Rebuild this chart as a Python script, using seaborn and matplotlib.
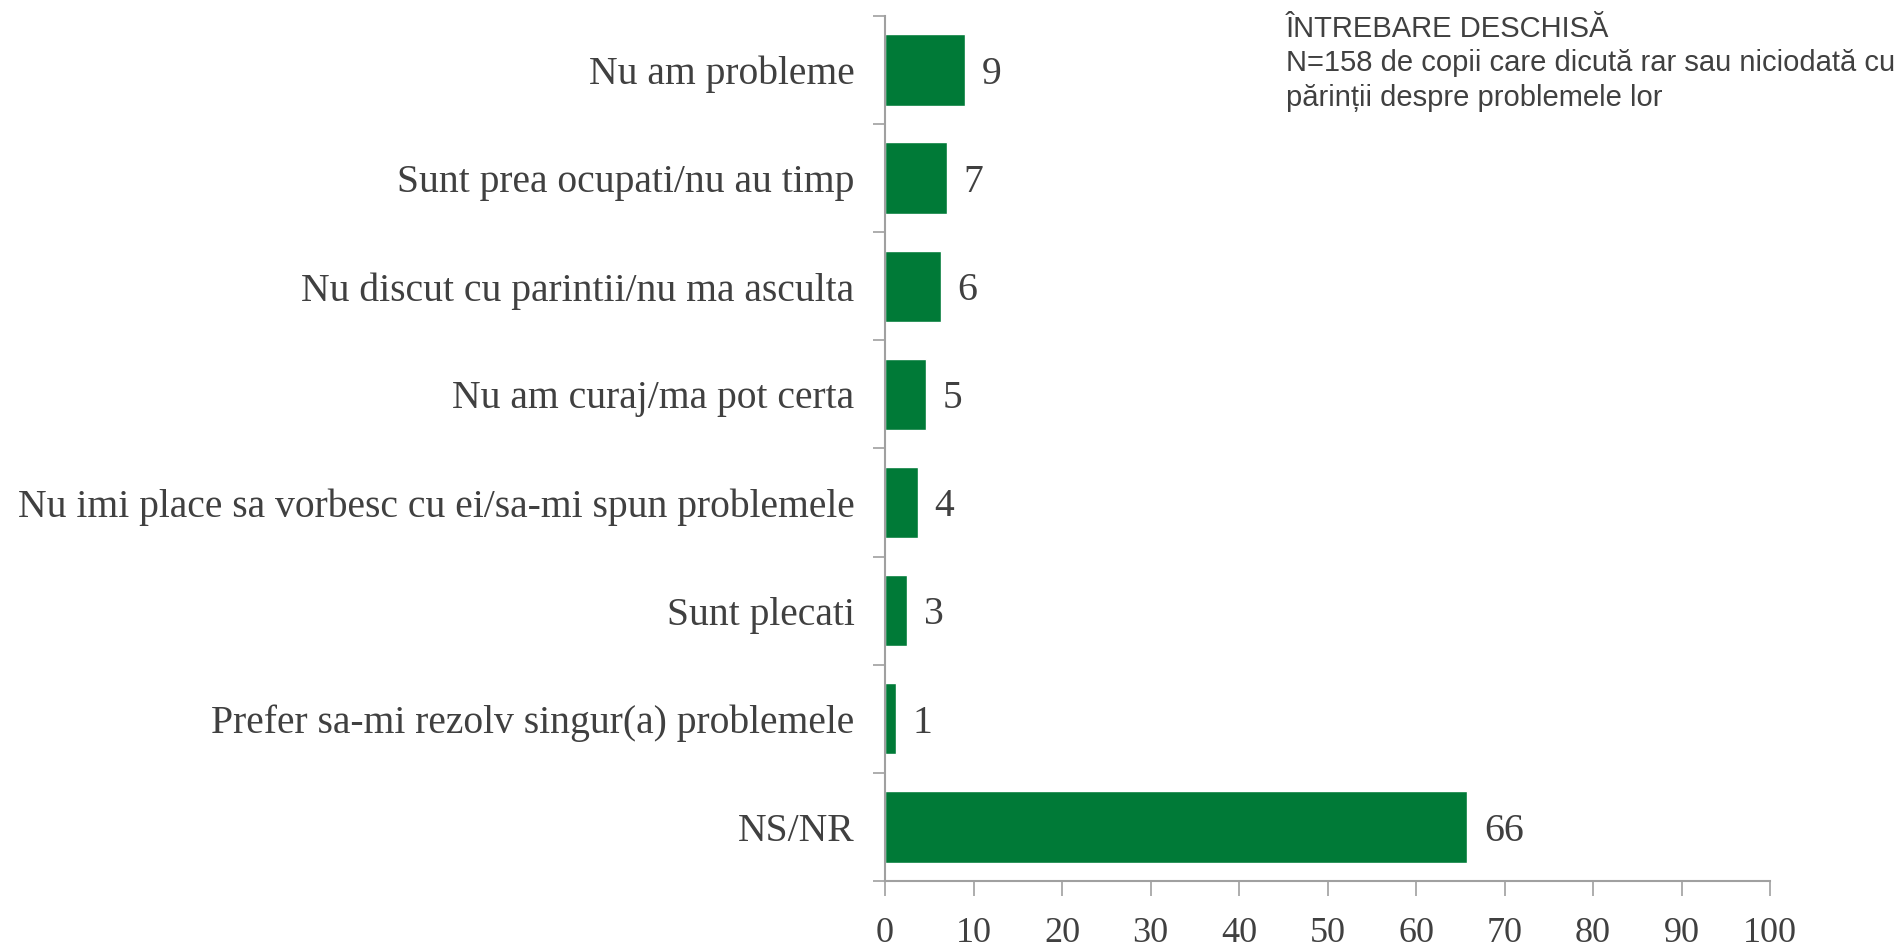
import pandas as pd
import seaborn as sns
import matplotlib.pyplot as plt
from matplotlib.ticker import FixedLocator

# Data
categories = [
    "Nu am probleme",
    "Sunt prea ocupati/nu au timp",
    "Nu discut cu parintii/nu ma asculta",
    "Nu am curaj/ma pot certa",
    "Nu imi place sa vorbesc cu ei/sa-mi spun problemele",
    "Sunt plecati",
    "Prefer sa-mi rezolv singur(a) problemele",
    "NS/NR",
]
values = [9, 7, 6.3, 4.6, 3.7, 2.5, 1.2, 65.8]
labels = ["9", "7", "6", "5", "4", "3", "1", "66"]
x_ticks = [0, 10, 20, 30, 40, 50, 60, 70, 80, 90, 100]

df = pd.DataFrame({"cat": categories, "val": values})

sns.set_style("white")
plt.rcParams["font.family"] = ["Liberation Serif", "DejaVu Serif"]

text_col = "#404040"
axis_col = "#a0a0a0"
green = "#007A37"
fs = 28.5

fig = plt.figure(figsize=(18.98, 9.52), dpi=100)
ax = fig.add_axes([0.4663, 0.0746, 0.4663, 0.9086])

sns.barplot(data=df, x="val", y="cat", color=green, width=0.66,
            saturation=1, orient="h", ax=ax)

for i, (v, lab) in enumerate(zip(values, labels)):
    ax.text(v + 1.9, i + 0.04, lab, va="center", ha="left", fontsize=fs, color=text_col)

ax.set_xlim(0, 100)
ax.set_ylim(len(categories) - 0.5, -0.5)
ax.set_xticks(x_ticks)
ax.set_xticklabels([str(t) for t in x_ticks], fontsize=26, color=text_col)
ax.tick_params(axis="x", bottom=True, length=11, width=1.2, color=axis_col, pad=15, direction="out")
ax.tick_params(axis="y", which="major", left=True, length=0, pad=22, labelsize=fs, labelcolor=text_col)
ax.yaxis.set_minor_locator(FixedLocator([i - 0.5 for i in range(len(categories) + 1)]))
ax.tick_params(axis="y", which="minor", left=True, length=9, width=1.2, color=axis_col, direction="out")
ax.set_xlabel("")
ax.set_ylabel("")

for s in ["top", "right"]:
    ax.spines[s].set_visible(False)
for s in ["left", "bottom"]:
    ax.spines[s].set_color(axis_col)
    ax.spines[s].set_linewidth(1.5)

fig.text(0.6775, 0.984, "ÎNTREBARE DESCHISĂ\nN=158 de copii care dicută rar sau niciodată cu\npărinții despre problemele lor",
         ha="left", va="top", fontsize=21, color=text_col,
         family=["Liberation Sans", "DejaVu Sans"], linespacing=1.28)

plt.savefig("out.png", dpi=100)
plt.close()
